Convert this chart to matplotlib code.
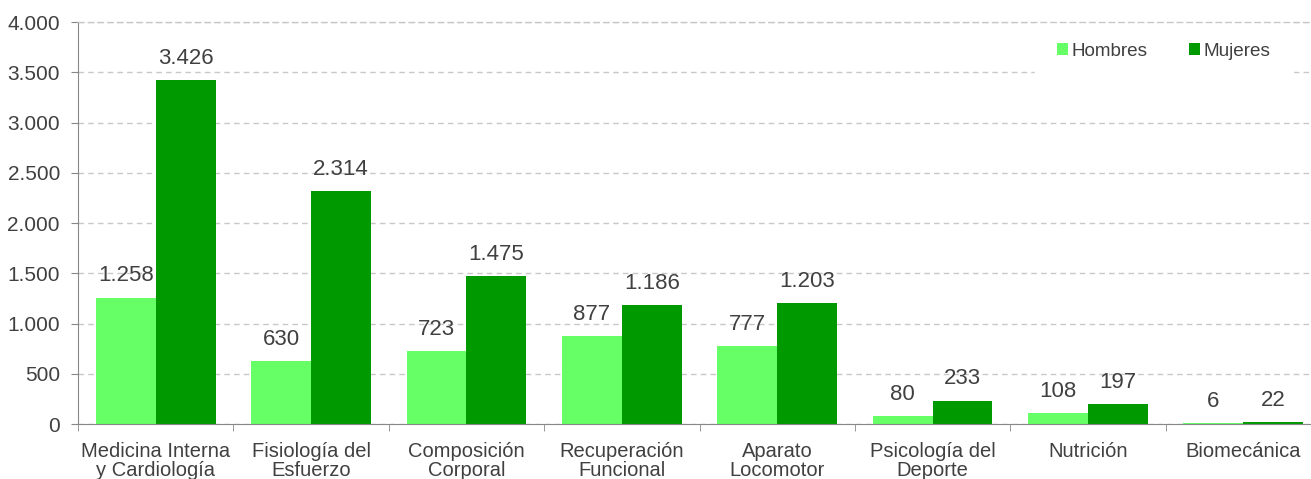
import matplotlib;matplotlib.use("Agg")
import numpy as np
import matplotlib.pyplot as plt
from matplotlib.ticker import FuncFormatter

categorias=["Medicina Interna\ny Cardiología","Fisiología del\nEsfuerzo","Composición\nCorporal",
"Recuperación\nFuncional","Aparato\nLocomotor","Psicología del\nDeporte","Nutrición","Biomecánica"]
hombres=[1258,630,723,877,777,80,108,6]
mujeres=[3426,2314,1475,1186,1203,233,197,22]

plt.rcParams["font.family"]=["Liberation Sans","DejaVu Sans"]
txt="#404040"
fig=plt.figure(figsize=(13.11,4.79),dpi=100)
# right edge of the plot runs slightly past the image, as in the reference
ax=fig.add_axes([78/1311,1-424/479,1243/1311,402/479])
x=np.arange(len(categorias));w=0.385
b1=ax.bar(x-w/2,hombres,w,color="#66FF66",label="Hombres",zorder=2)
b2=ax.bar(x+w/2,mujeres,w,color="#009900",label="Mujeres",zorder=2)
fmt=lambda v:f"{int(v):,}".replace(",",".")
for bars,vals in ((b1,hombres),(b2,mujeres)):
    for b,v in zip(bars,vals):
        ax.annotate(fmt(v),(b.get_x()+b.get_width()/2,v),xytext=(0,8),textcoords="offset points",
                    ha="center",va="bottom",fontsize=16,color=txt)
ax.set_xlim(-0.5,len(categorias)-0.5);ax.set_ylim(0,4000)
ax.set_yticks(np.arange(0,4001,500))
ax.yaxis.set_major_formatter(FuncFormatter(lambda v,p:fmt(v)))
ax.set_xticks(x);ax.set_xticklabels(categorias,fontsize=14.5,color=txt,linespacing=1.0)
ax.set_xticks(np.arange(-0.5,len(categorias),1),minor=True)
ax.tick_params(axis="x",which="major",length=0,pad=13)
ax.tick_params(axis="x",which="minor",length=5,color="#888888")
ax.tick_params(axis="y",labelsize=15,labelcolor=txt,length=5,color="#888888",pad=8)
ax.grid(axis="y",ls=(0,(4,3)),color="#C8C8C8",lw=1,zorder=0)
ax.spines["right"].set_visible(False)
# top gridline stays visible above the legend box
ax.spines["top"].set(linestyle=(0,(4,3)),color="#C8C8C8",linewidth=1,zorder=6)
for s in ("left","bottom"):ax.spines[s].set_color("#888888")
leg=ax.legend(loc="upper right",bbox_to_anchor=(0.985,1.028),ncol=2,frameon=True,fontsize=13.6,
              handlelength=0.55,handleheight=0.55,handletextpad=0.2,columnspacing=2.2,borderpad=1.2)
leg.get_frame().set_edgecolor("white");leg.get_frame().set_alpha(1)
for t in leg.get_texts():t.set_color(txt)
fig.savefig("out.png",dpi=100)
